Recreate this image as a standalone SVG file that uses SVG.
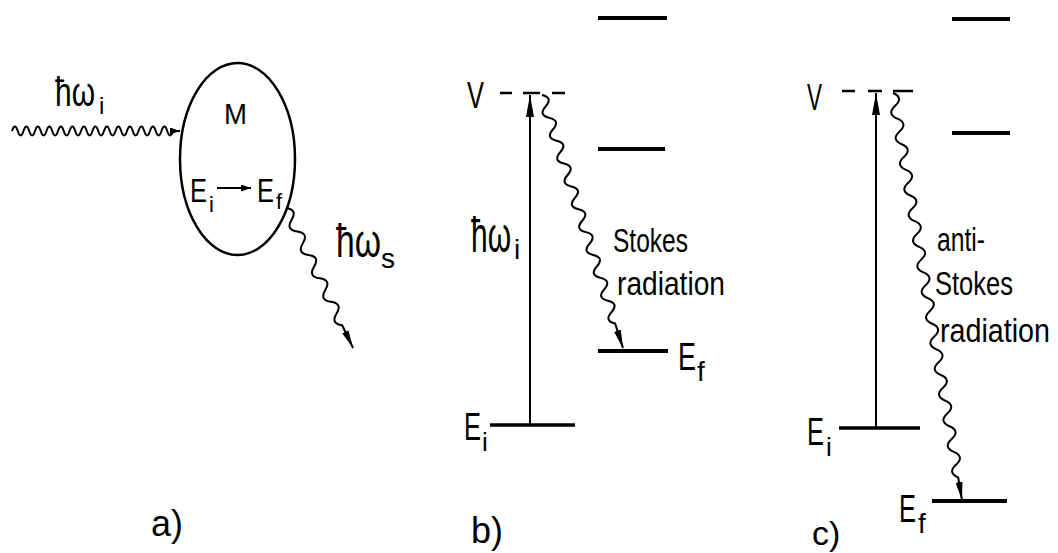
<svg xmlns="http://www.w3.org/2000/svg" width="1058" height="553" viewBox="0 0 1058 553">
<style>
.t{font-family:"Liberation Sans Narrow","Liberation Sans",Arial,sans-serif;fill:#000}
.ln{stroke:#000;stroke-width:2;fill:none}
.lv{stroke:#000;stroke-width:4}
.lvi{stroke:#000;stroke-width:3.5}
.wv{stroke:#000;stroke-width:2;fill:none;stroke-linejoin:round}
.ds{stroke:#000;stroke-width:2.5}
</style>
<defs>
<marker id="mBig" viewBox="0 0 22 8" refX="22" refY="4" markerWidth="22" markerHeight="8" markerUnits="userSpaceOnUse" orient="auto"><path d="M0,0 L22,4 L0,8 z" fill="#000"/></marker>
<marker id="mWave" viewBox="0 0 18 7" refX="18" refY="3.5" markerWidth="18" markerHeight="7" markerUnits="userSpaceOnUse" orient="auto"><path d="M0,0 L18,3.5 L0,7 z" fill="#000"/></marker>
<marker id="mSmall" viewBox="0 0 10 7" refX="10" refY="3.5" markerWidth="10" markerHeight="7" markerUnits="userSpaceOnUse" orient="auto"><path d="M0,0 L10,3.5 L0,7 z" fill="#000"/></marker>
</defs>
<rect width="1058" height="553" fill="#fff"/>

<!-- Panel a -->
<g id="molecule">
<ellipse cx="237.5" cy="159" rx="57.5" ry="96" class="ln" style="stroke-width:2.5"/>
<text class="t" x="224" y="124" font-size="29" textLength="23" lengthAdjust="spacingAndGlyphs">M</text>
<text class="t" x="190" y="202" font-size="34" textLength="17" lengthAdjust="spacingAndGlyphs">E</text>
<text class="t" x="209" y="212" font-size="22">i</text>
<text class="t" x="257" y="202" font-size="34" textLength="17" lengthAdjust="spacingAndGlyphs">E</text>
<text class="t" x="276" y="209" font-size="22">f</text>
</g>
<g id="label-a-in">
<text class="t" x="55" y="106" font-size="40" textLength="40" lengthAdjust="spacingAndGlyphs">ħω</text>
<text class="t" x="99" y="114" font-size="24">i</text>
</g>
<g id="label-a-out">
<text class="t" x="336" y="257" font-size="46" textLength="45" lengthAdjust="spacingAndGlyphs">ħω</text>
<text class="t" x="381" y="268" font-size="28">s</text>
</g>
<text id="label-a" class="t" x="151" y="536" font-size="36">a)</text>

<!-- Panel b -->
<g id="b-levels">
<line class="lv" x1="598" y1="18" x2="667" y2="18"/>
<line class="lv" x1="598" y1="149" x2="665" y2="149"/>
<line class="lv" x1="598" y1="351" x2="668" y2="351"/>
<line class="lvi" x1="490" y1="425" x2="575" y2="425"/>
<line class="ds" x1="500" y1="93" x2="512" y2="93"/>
<line class="ds" x1="523" y1="93" x2="540" y2="93"/>
<line class="ds" x1="552" y1="93" x2="565" y2="93"/>
</g>
<g id="b-labels">
<text class="t" x="467" y="108" font-size="36" textLength="17" lengthAdjust="spacingAndGlyphs">V</text>
<text class="t" x="471" y="252" font-size="50" textLength="40" lengthAdjust="spacingAndGlyphs">ħω</text>
<text class="t" x="514" y="259" font-size="28">i</text>
<text class="t" x="613" y="252" font-size="34" textLength="75" lengthAdjust="spacingAndGlyphs">Stokes</text>
<text class="t" x="617" y="295" font-size="34" textLength="108" lengthAdjust="spacingAndGlyphs">radiation</text>
<text class="t" x="678" y="370" font-size="38" textLength="18" lengthAdjust="spacingAndGlyphs">E</text>
<text class="t" x="697" y="381" font-size="28">f</text>
<text class="t" x="464" y="440" font-size="38" textLength="17" lengthAdjust="spacingAndGlyphs">E</text>
<text class="t" x="482" y="451" font-size="26">i</text>
<text class="t" x="471" y="543" font-size="36">b)</text>
</g>

<!-- Panel c -->
<g id="c-levels">
<line class="lv" x1="952" y1="19" x2="1010" y2="19"/>
<line class="lv" x1="952" y1="133" x2="1010" y2="133"/>
<line class="lvi" x1="839" y1="428" x2="920" y2="428"/>
<line class="lv" x1="932" y1="501" x2="1007" y2="501"/>
<line class="ds" x1="842" y1="91" x2="855" y2="91"/>
<line class="ds" x1="868" y1="91" x2="882" y2="91"/>
<line class="ds" x1="893" y1="91" x2="913" y2="91"/>
</g>
<g id="c-labels">
<text class="t" x="807" y="110" font-size="36" textLength="15" lengthAdjust="spacingAndGlyphs">V</text>
<text class="t" x="937" y="251" font-size="34" textLength="48" lengthAdjust="spacingAndGlyphs">anti-</text>
<text class="t" x="935" y="295" font-size="34" textLength="78" lengthAdjust="spacingAndGlyphs">Stokes</text>
<text class="t" x="940" y="342" font-size="34" textLength="110" lengthAdjust="spacingAndGlyphs">radiation</text>
<text class="t" x="807" y="445" font-size="38" textLength="17" lengthAdjust="spacingAndGlyphs">E</text>
<text class="t" x="826" y="456" font-size="26">i</text>
<text class="t" x="899" y="522" font-size="38" textLength="17" lengthAdjust="spacingAndGlyphs">E</text>
<text class="t" x="918" y="533" font-size="28">f</text>
<text class="t" x="812" y="545" font-size="34">c)</text>
</g>

<!-- Connectors -->
<g id="connectors">
<path class="wv" marker-end="url(#mSmall)" d="M12,131 q2.875,-9 5.75,0 t5.75,0 t5.75,0 t5.75,0 t5.75,0 t5.75,0 t5.75,0 t5.75,0 t5.75,0 t5.75,0 t5.75,0 t5.75,0 t5.75,0 t5.75,0 t5.75,0 t5.75,0 t5.75,0 t5.75,0 t5.75,0 t5.75,0 t5.75,0 t5.75,0 t5.75,0 t5.75,0 t5.75,0 t5.75,0 t5.75,0 t5.75,0 l7,0"/>
<line class="ln" x1="217" y1="188" x2="251" y2="188" marker-end="url(#mSmall)"/>
<path class="wv" marker-end="url(#mWave)" transform="translate(286,208) rotate(64.4)" d="M0,0 q6.5,-10 13,0 t13,0 t13,0 t13,0 t13,0 t13,0 t13,0 t13,0 t13,0 t13,0 l25.2,0"/>
<line class="ln" x1="530" y1="425" x2="530" y2="95" marker-end="url(#mBig)"/>
<path class="wv" marker-end="url(#mWave)" transform="translate(542,95) rotate(72.25)" d="M0,0 q6,-10 12,0 t12,0 t12,0 t12,0 t12,0 t12,0 t12,0 t12,0 t12,0 t12,0 t12,0 t12,0 t12,0 t12,0 t12,0 t12,0 t12,0 t12,0 t12,0 t12,0 l25.6,0"/>
<line class="ln" x1="876" y1="428" x2="876" y2="93" marker-end="url(#mBig)"/>
<path class="wv" marker-end="url(#mWave)" transform="translate(893,93) rotate(80.38)" d="M0,0 q6.5,-10 13,0 t13,0 t13,0 t13,0 t13,0 t13,0 t13,0 t13,0 t13,0 t13,0 t13,0 t13,0 t13,0 t13,0 t13,0 t13,0 t13,0 t13,0 t13,0 t13,0 t13,0 t13,0 t13,0 t13,0 t13,0 t13,0 t13,0 t13,0 t13,0 t13,0 l22.8,0"/>
</g>
</svg>
